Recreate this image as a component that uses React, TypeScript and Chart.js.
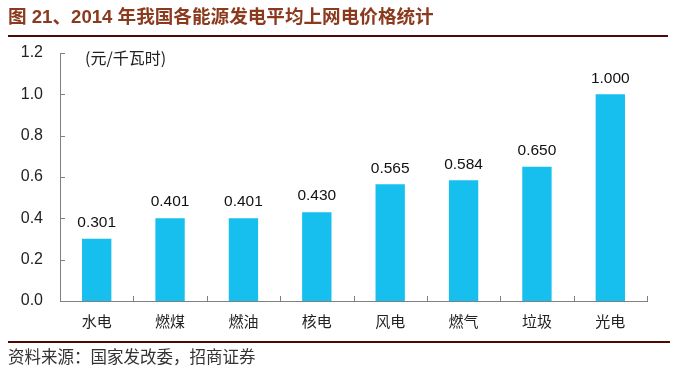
import React, { useEffect, useRef } from "react";
import { Chart, registerables } from "chart.js";

Chart.register(...registerables);

const categories = ["水电", "燃煤", "燃油", "核电", "风电", "燃气", "垃圾", "光电"];
const prices = [0.301, 0.401, 0.401, 0.43, 0.565, 0.584, 0.65, 1.0];
const yTickValues = [0, 0.2, 0.4, 0.6, 0.8, 1.0, 1.2];
const titleText = "图 21、2014 年我国各能源发电平均上网电价格统计";
const unitText = "(元/千瓦时)";
const sourceText = "资料来源：国家发改委，招商证券";

const SANS = "'Liberation Sans', Arial, 'Noto Sans CJK SC', sans-serif";
const CJK = "'Noto Sans CJK SC', 'Liberation Sans', sans-serif";

const decorPlugin = {
  id: "decor",
  afterDraw(chart: any) {
    const ctx = chart.ctx as CanvasRenderingContext2D;
    const area = chart.chartArea;
    const xs = chart.scales.x;
    const ys = chart.scales.y;
    ctx.save();

    // title
    ctx.fillStyle = "#8B3A1E";
    ctx.font = `bold 18.6px ${SANS}`;
    ctx.textAlign = "left";
    ctx.textBaseline = "middle";
    ctx.fillText(titleText, 8, 18);

    // header & footer rules
    ctx.strokeStyle = "#4E0808";
    ctx.lineWidth = 2;
    ctx.beginPath();
    ctx.moveTo(8, 36);
    ctx.lineTo(668, 36);
    ctx.moveTo(8, 342);
    ctx.lineTo(670, 342);
    ctx.stroke();

    // source
    ctx.fillStyle = "#333333";
    ctx.font = `16.5px ${CJK}`;
    ctx.fillText(sourceText, 8, 357);

    // unit
    ctx.fillStyle = "#222222";
    ctx.font = `16px ${CJK}`;
    ctx.fillText(unitText, area.left + 25, 58);

    // inner tick marks
    ctx.strokeStyle = "#808080";
    ctx.lineWidth = 1;
    ctx.beginPath();
    yTickValues.forEach((v) => {
      const py = Math.round(ys.getPixelForValue(v)) + 0.5;
      ctx.moveTo(area.left, py);
      ctx.lineTo(area.left + 5, py);
    });
    for (let i = 0; i <= categories.length; i++) {
      const px = Math.round(xs.getPixelForValue(i - 0.5)) + 0.5;
      ctx.moveTo(px, area.bottom);
      ctx.lineTo(px, area.bottom - 5);
    }
    ctx.stroke();

    // value labels
    const meta = chart.getDatasetMeta(0);
    ctx.fillStyle = "#111111";
    ctx.font = `15.5px ${SANS}`;
    ctx.textAlign = "center";
    ctx.textBaseline = "middle";
    meta.data.forEach((bar: any, i: number) => {
      ctx.fillText(prices[i].toFixed(3), bar.x, bar.y - 16);
    });

    ctx.restore();
  },
};

export default function App() {
  const canvasRef = useRef<HTMLCanvasElement | null>(null);

  useEffect(() => {
    if (!canvasRef.current) return;
    const chart = new Chart(canvasRef.current, {
      type: "bar",
      data: {
        labels: categories,
        datasets: [
          {
            data: prices,
            backgroundColor: "#17BFEF",
            borderWidth: 0,
            barPercentage: 0.4,
            categoryPercentage: 1,
          },
        ],
      },
      options: {
        responsive: false,
        animation: false,
        devicePixelRatio: 1,
        layout: { padding: { top: 53, right: 28, bottom: 40, left: 0 } },
        plugins: {
          legend: { display: false },
          tooltip: { enabled: false },
          title: { display: false },
        },
        scales: {
          x: {
            type: "category",
            offset: true,
            grid: { display: false, drawTicks: false, offset: true },
            border: { display: true, color: "#808080", width: 1 },
            ticks: {
              color: "#222222",
              font: { family: CJK, size: 15 },
              padding: 11,
              maxRotation: 0,
            },
            afterFit: (s: any) => {
              s.height = 34;
            },
          },
          y: {
            type: "linear",
            min: 0,
            max: 1.2,
            grid: { display: false, drawTicks: false },
            border: { display: true, color: "#808080", width: 1 },
            ticks: {
              color: "#222222",
              font: { family: SANS, size: 16 },
              padding: 17,
              callback: (v: any) => Number(v).toFixed(1),
            },
            afterBuildTicks: (s: any) => {
              s.ticks = yTickValues.map((v) => ({ value: v }));
            },
            afterFit: (s: any) => {
              s.width = 60;
            },
          },
        },
      },
      plugins: [decorPlugin],
    });
    return () => chart.destroy();
  }, []);

  return (
    <div style={{ position: "absolute", left: 0, top: 0, width: 675, height: 375, background: "#ffffff" }}>
      <canvas ref={canvasRef} width={675} height={375} style={{ display: "block", width: 675, height: 375 }} />
    </div>
  );
}
